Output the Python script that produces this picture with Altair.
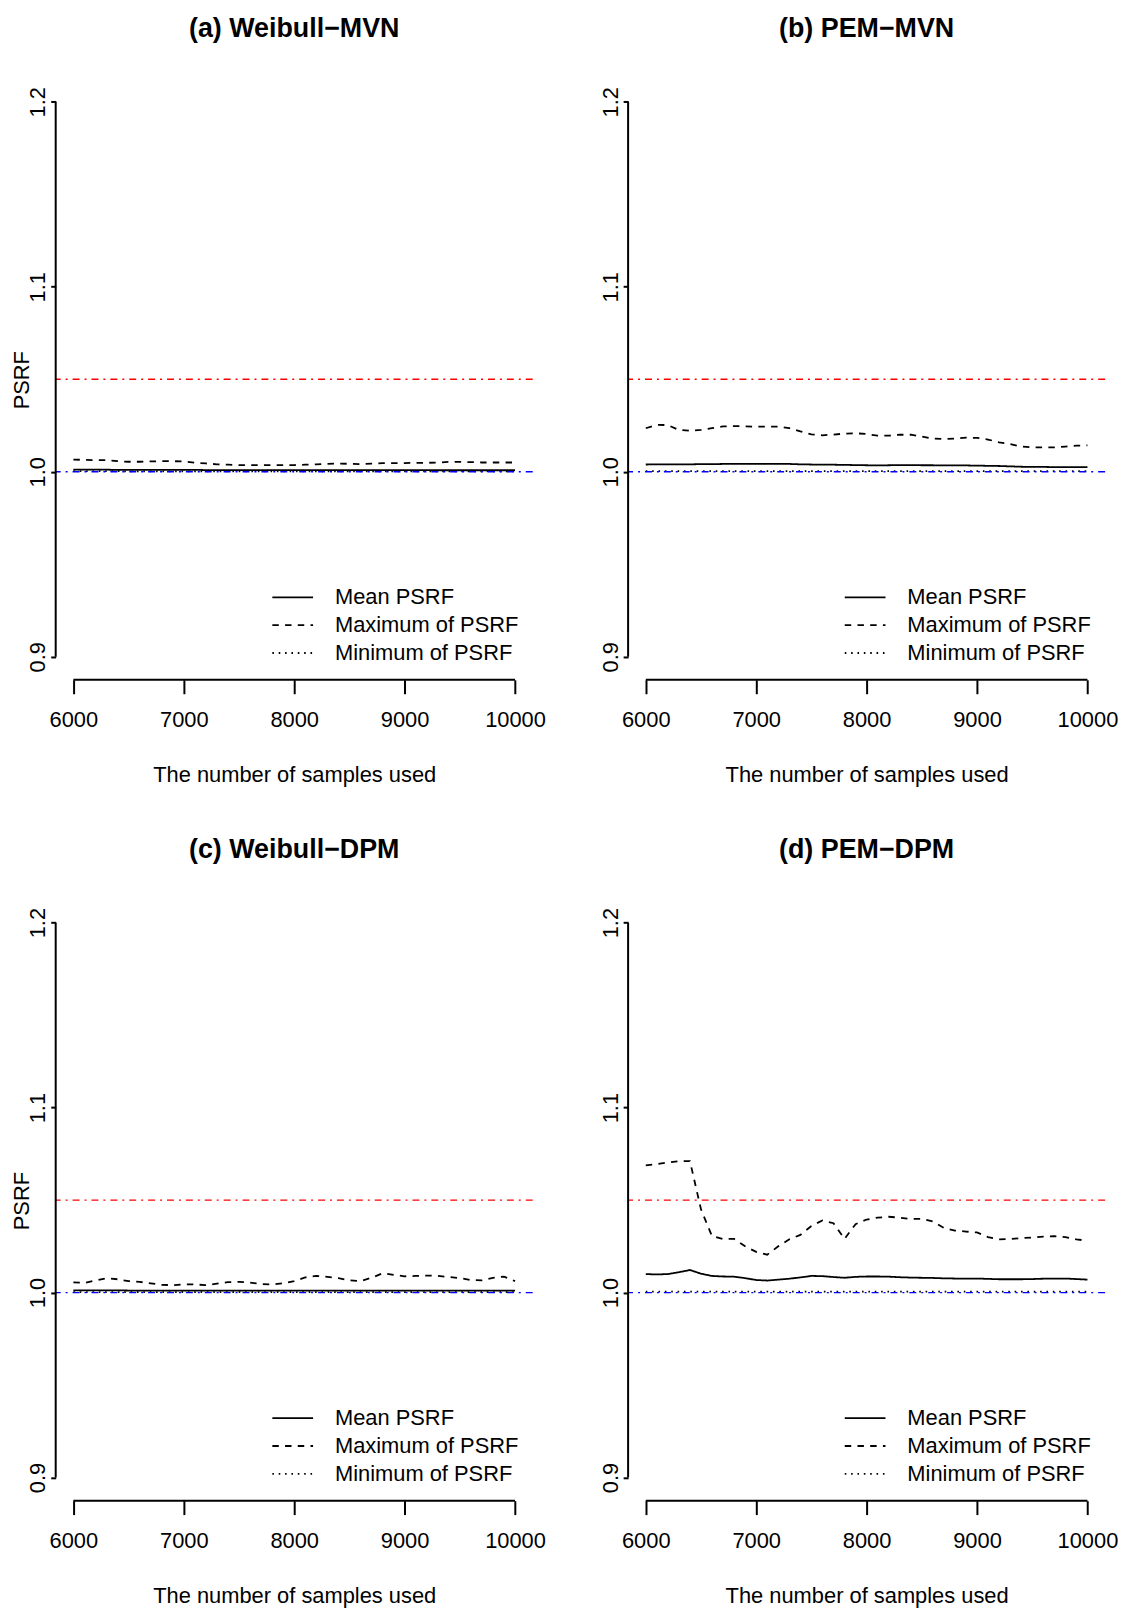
import altair as alt
import pandas as pd

SAMPLES = [6000, 6100, 6200, 6300, 6400, 6500, 6600, 6700, 6800, 6900,
           7000, 7100, 7200, 7300, 7400, 7500, 7600, 7700, 7800, 7900,
           8000, 8100, 8200, 8300, 8400, 8500, 8600, 8700, 8800, 8900,
           9000, 9100, 9200, 9300, 9400, 9500, 9600, 9700, 9800, 9900, 10000]

# (a) Weibull-MVN
A_MAX = [1.0066, 1.0064, 1.0063, 1.0063, 1.0057, 1.0054, 1.0054, 1.0056, 1.0057, 1.0057,
         1.0055, 1.0049, 1.0045, 1.0040, 1.0038, 1.0036, 1.0036, 1.0035, 1.0036, 1.0036,
         1.0036, 1.0038, 1.0040, 1.0043, 1.0044, 1.0043, 1.0041, 1.0044, 1.0046, 1.0047,
         1.0047, 1.0048, 1.0048, 1.0050, 1.0053, 1.0053, 1.0052, 1.0050, 1.0050, 1.0050, 1.0050]
A_MEAN = [1.0011, 1.0011, 1.0011, 1.0011, 1.0010, 1.0010, 1.0010, 1.0010, 1.0010, 1.0010,
          1.0010, 1.0010, 1.0009, 1.0009, 1.0009, 1.0009, 1.0009, 1.0009, 1.0009, 1.0009,
          1.0009, 1.0009, 1.0009, 1.0009, 1.0009, 1.0009, 1.0009, 1.0009, 1.0009, 1.0009,
          1.0009, 1.0009, 1.0009, 1.0008, 1.0008, 1.0008, 1.0008, 1.0008, 1.0008, 1.0008, 1.0008]
A_MIN = [1.0003, 1.0003, 1.0003, 1.0003, 1.0003, 1.0002, 1.0002, 1.0002, 1.0002, 1.0002,
         1.0002, 1.0002, 1.0002, 1.0002, 1.0002, 1.0002, 1.0002, 1.0002, 1.0002, 1.0002,
         1.0002, 1.0002, 1.0002, 1.0002, 1.0002, 1.0002, 1.0002, 1.0002, 1.0002, 1.0002,
         1.0002, 1.0002, 1.0002, 1.0002, 1.0002, 1.0002, 1.0002, 1.0002, 1.0002, 1.0002, 1.0002]

# (b) PEM-MVN
B_MAX = [1.0235, 1.0254, 1.0252, 1.0226, 1.0222, 1.0226, 1.0236, 1.0245, 1.0247, 1.0245,
         1.0244, 1.0244, 1.0244, 1.0236, 1.0218, 1.0202, 1.0197, 1.0201, 1.0206, 1.0208,
         1.0204, 1.0195, 1.0195, 1.0200, 1.0200, 1.0190, 1.0179, 1.0177, 1.0179, 1.0184,
         1.0183, 1.0174, 1.0159, 1.0149, 1.0136, 1.0132, 1.0132, 1.0132, 1.0136, 1.0141, 1.0143]
B_MEAN = [1.0039, 1.0040, 1.0040, 1.0040, 1.0040, 1.0041, 1.0041, 1.0042, 1.0042, 1.0043,
          1.0043, 1.0043, 1.0043, 1.0042, 1.0040, 1.0039, 1.0038, 1.0038, 1.0037, 1.0036,
          1.0035, 1.0034, 1.0035, 1.0036, 1.0036, 1.0035, 1.0035, 1.0034, 1.0034, 1.0034,
          1.0033, 1.0032, 1.0031, 1.0029, 1.0027, 1.0026, 1.0026, 1.0025, 1.0025, 1.0025, 1.0025]
B_MIN = [1.0003, 1.0003, 1.0003, 1.0003, 1.0003, 1.0003, 1.0003, 1.0003, 1.0003, 1.0003,
         1.0003, 1.0003, 1.0003, 1.0003, 1.0003, 1.0003, 1.0003, 1.0003, 1.0003, 1.0003,
         1.0003, 1.0003, 1.0003, 1.0003, 1.0003, 1.0003, 1.0003, 1.0003, 1.0003, 1.0003,
         1.0003, 1.0003, 1.0003, 1.0003, 1.0003, 1.0003, 1.0003, 1.0003, 1.0003, 1.0003, 1.0003]

# (c) Weibull-DPM
C_MAX = [1.0055, 1.0052, 1.0065, 1.0078, 1.0072, 1.0062, 1.0058, 1.0050, 1.0042, 1.0040,
         1.0045, 1.0044, 1.0040, 1.0048, 1.0056, 1.0058, 1.0054, 1.0046, 1.0043, 1.0050,
         1.0062, 1.0082, 1.0090, 1.0085, 1.0078, 1.0066, 1.0062, 1.0080, 1.0104, 1.0096,
         1.0088, 1.0090, 1.0092, 1.0090, 1.0084, 1.0078, 1.0068, 1.0066, 1.0080, 1.0086, 1.0062]
C_MEAN = [1.0012, 1.0012, 1.0012, 1.0012, 1.0012, 1.0011, 1.0011, 1.0011, 1.0011, 1.0011,
          1.0011, 1.0011, 1.0011, 1.0011, 1.0011, 1.0011, 1.0011, 1.0011, 1.0011, 1.0011,
          1.0011, 1.0011, 1.0011, 1.0011, 1.0011, 1.0011, 1.0011, 1.0011, 1.0011, 1.0011,
          1.0010, 1.0010, 1.0010, 1.0010, 1.0010, 1.0010, 1.0010, 1.0010, 1.0010, 1.0010, 1.0010]
C_MIN = [1.0003, 1.0003, 1.0003, 1.0003, 1.0003, 1.0003, 1.0003, 1.0003, 1.0003, 1.0003,
         1.0003, 1.0003, 1.0003, 1.0003, 1.0003, 1.0003, 1.0003, 1.0003, 1.0003, 1.0003,
         1.0003, 1.0003, 1.0003, 1.0003, 1.0003, 1.0003, 1.0003, 1.0003, 1.0003, 1.0003,
         1.0003, 1.0003, 1.0003, 1.0003, 1.0003, 1.0003, 1.0003, 1.0003, 1.0003, 1.0003, 1.0003]

# (d) PEM-DPM
D_MAX = [1.0688, 1.0695, 1.0703, 1.0710, 1.0711, 1.0450, 1.0305, 1.0290, 1.0290, 1.0250,
         1.0220, 1.0205, 1.0250, 1.0288, 1.0312, 1.0360, 1.0390, 1.0375, 1.0290, 1.0370,
         1.0395, 1.0405, 1.0410, 1.0405, 1.0398, 1.0398, 1.0385, 1.0350, 1.0335, 1.0330,
         1.0325, 1.0300, 1.0288, 1.0290, 1.0294, 1.0298, 1.0302, 1.0305, 1.0300, 1.0288, 1.0280]
D_MEAN = [1.0100, 1.0098, 1.0100, 1.0110, 1.0122, 1.0102, 1.0090, 1.0087, 1.0086, 1.0078,
          1.0068, 1.0065, 1.0070, 1.0075, 1.0082, 1.0090, 1.0089, 1.0084, 1.0080, 1.0085,
          1.0087, 1.0087, 1.0086, 1.0083, 1.0081, 1.0080, 1.0079, 1.0077, 1.0076, 1.0076,
          1.0076, 1.0074, 1.0072, 1.0072, 1.0072, 1.0073, 1.0075, 1.0076, 1.0076, 1.0073, 1.0070]
D_MIN = [1.0005, 1.0005, 1.0005, 1.0005, 1.0005, 1.0005, 1.0005, 1.0005, 1.0005, 1.0005,
         1.0005, 1.0005, 1.0005, 1.0005, 1.0005, 1.0005, 1.0005, 1.0005, 1.0005, 1.0005,
         1.0005, 1.0005, 1.0005, 1.0005, 1.0005, 1.0005, 1.0005, 1.0005, 1.0005, 1.0005,
         1.0005, 1.0005, 1.0005, 1.0005, 1.0005, 1.0005, 1.0005, 1.0005, 1.0005, 1.0005, 1.0005]

TITLES = ["(a) Weibull\u2212MVN", "(b) PEM\u2212MVN", "(c) Weibull\u2212DPM", "(d) PEM\u2212DPM"]
SERIES = ["Mean PSRF", "Maximum of PSRF", "Minimum of PSRF"]
X_TICKS = [6000, 7000, 8000, 9000, 10000]
Y_TICKS = [0.9, 1.0, 1.1, 1.2]
REF_LINES = [1.05, 1.0]
REF_COLORS = ["#FF0000", "#0000FF"]
X_LABEL = "The number of samples used"
Y_LABEL = "PSRF"

W, H = 480, 604
FONT = "Liberation Sans"

xscale = alt.Scale(domain=[5840, 10160], nice=False, zero=False)
yscale = alt.Scale(domain=[0.8875, 1.212], nice=False, zero=False)


def panel(title, mean, mx, mn, show_ytitle):
    n = len(SAMPLES)
    df = pd.DataFrame({
        "x": SAMPLES * 3,
        "v": mean + mx + mn,
        "s": [SERIES[0]] * n + [SERIES[1]] * n + [SERIES[2]] * n,
    })
    xaxis = alt.Axis(values=X_TICKS, format="d", domain=False, grid=False,
                     tickSize=14, tickWidth=2, tickColor="black",
                     labelFont=FONT, labelFontSize=22, labelColor="black",
                     labelPadding=16, labelBaseline="top", labelFlush=False,
                     labelOverlap=False,
                     title=X_LABEL, titleFont=FONT, titleFontSize=22,
                     titleFontWeight="normal", titleColor="black",
                     titleY=85, titleBaseline="top")
    yargs = dict(values=Y_TICKS, format=".1f", domain=False, grid=False,
                 tickSize=5, tickWidth=2, tickColor="black",
                 labelFont=FONT, labelFontSize=22, labelColor="black",
                 labelAngle=270, labelAlign="center", labelBaseline="alphabetic",
                 labelPadding=6, labelFlush=False, labelOverlap=False)
    if show_ytitle:
        yargs.update(title=Y_LABEL, titleFont=FONT, titleFontSize=22,
                     titleFontWeight="normal", titleColor="black",
                     titleX=-34, titleY=H / 2, titleAngle=270,
                     titleAlign="center", titleBaseline="middle")
    else:
        yargs.update(title=None)
    yaxis = alt.Axis(**yargs)

    lines = alt.Chart(df).mark_line(color="black", strokeWidth=1.8).encode(
        x=alt.X("x:Q", scale=xscale, axis=xaxis),
        y=alt.Y("v:Q", scale=yscale, axis=yaxis),
        strokeDash=alt.StrokeDash(
            "s:N",
            scale=alt.Scale(domain=SERIES, range=[[1, 0], [6.5, 6.3], [1.6, 4.8]]),
            legend=alt.Legend(orient="none", legendX=217, legendY=510, title=None,
                              direction="vertical",
                              symbolType="stroke", symbolSize=1681,
                              symbolStrokeWidth=1.8, symbolStrokeColor="black",
                              labelFont=FONT, labelFontSize=22, labelColor="black",
                              labelOffset=21, clipHeight=22, rowPadding=6,
                              padding=0, labelLimit=400),
        ),
        detail="s:N",
    )

    refdf = pd.DataFrame({"y": REF_LINES, "c": REF_COLORS})
    refs = alt.Chart(refdf).mark_rule(strokeDash=[7, 5, 2, 5], strokeWidth=1.4).encode(
        y=alt.Y("y:Q", scale=yscale),
        color=alt.Color("c:N", scale=None),
    )

    xa = pd.DataFrame({"a": [min(X_TICKS)], "b": [max(X_TICKS)]})
    xrule = alt.Chart(xa).mark_rule(color="black", strokeWidth=2).encode(
        x=alt.X("a:Q", scale=xscale), x2="b:Q", y=alt.value(H))
    ya = pd.DataFrame({"a": [min(Y_TICKS)], "b": [max(Y_TICKS)]})
    yrule = alt.Chart(ya).mark_rule(color="black", strokeWidth=2).encode(
        y=alt.Y("a:Q", scale=yscale), y2="b:Q", x=alt.value(0))

    return alt.layer(lines, refs, xrule, yrule).properties(
        width=W, height=H,
        title=alt.TitleParams(text=title, font=FONT, fontSize=27, fontWeight="bold",
                              color="black", anchor="middle", baseline="alphabetic",
                              offset=16),
    )


pa = panel(TITLES[0], A_MEAN, A_MAX, A_MIN, True)
pb = panel(TITLES[1], B_MEAN, B_MAX, B_MIN, False)
pc = panel(TITLES[2], C_MEAN, C_MAX, C_MIN, True)
pd_ = panel(TITLES[3], D_MEAN, D_MAX, D_MIN, False)

chart = alt.concat(pa, pb, pc, pd_, columns=2,
                   spacing={"row": 222, "column": 96}, bounds="flush").resolve_legend(
    strokeDash="independent"
).configure_view(stroke=None).properties(
    padding={"left": 3, "top": 2, "right": 5, "bottom": 3},
    background="white",
)

chart.save("out.html", embed_options={"renderer": "svg", "actions": False})
